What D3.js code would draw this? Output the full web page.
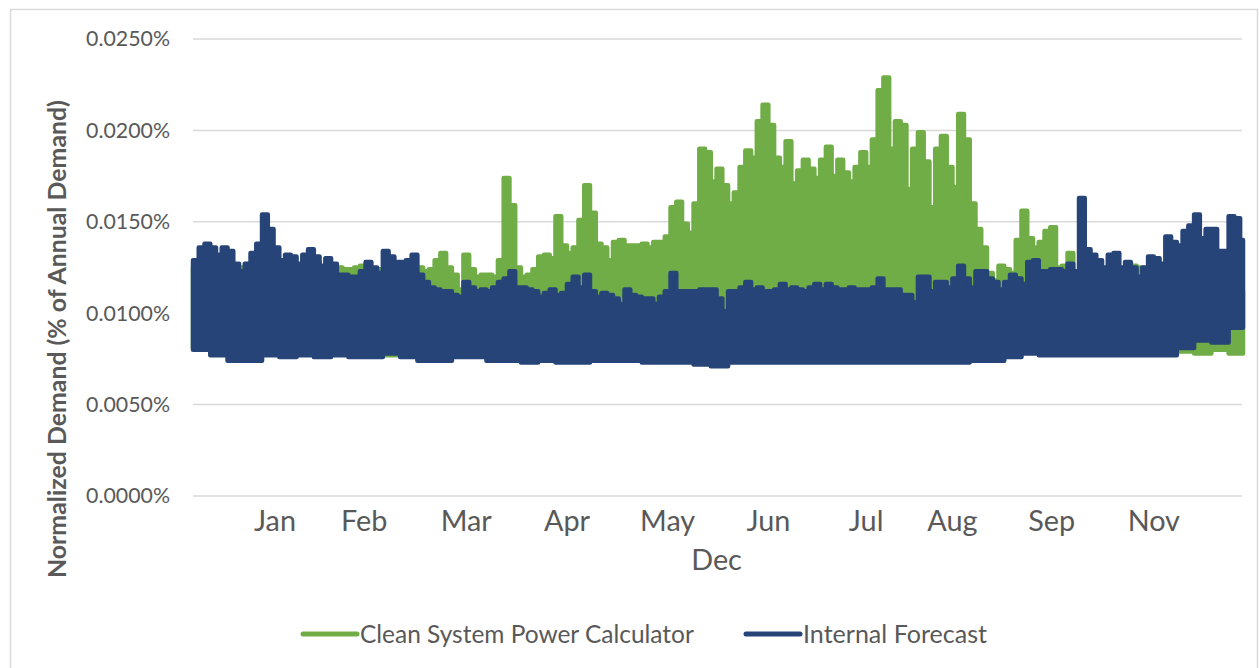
<!DOCTYPE html>
<html>
<head>
<meta charset="utf-8">
<script src="https://cdn.jsdelivr.net/npm/d3@7"></script>
<style>
  body { margin: 0; background: #fff; }
  svg { display: block; }
  text { font-family: Lato, "Open Sans", sans-serif; fill: #595959; }
</style>
</head>
<body>
<div id="chart"></div>
<script>
// Upper envelope of each series, one value per 2-day step (% of annual demand)
const cspcHigh = [
  0.0125, 0.0127, 0.0127, 0.0126, 0.0125, 0.0125, 0.0124, 0.0124, 0.0125, 0.0124,
  0.0124, 0.0125, 0.0126, 0.0124, 0.0123, 0.0123, 0.0122, 0.0123, 0.0124, 0.0123,
  0.0125, 0.0128, 0.0124, 0.0123, 0.0124, 0.0125, 0.0124, 0.0124, 0.0125, 0.0126,
  0.0124, 0.0122, 0.0124, 0.0121, 0.0122, 0.0122, 0.0121, 0.0122, 0.0123, 0.0125,
  0.0123, 0.0124, 0.0129, 0.0133, 0.0125, 0.0121, 0.0113, 0.0132, 0.0124, 0.0120,
  0.0121, 0.0121, 0.0120, 0.0129, 0.0174, 0.0159, 0.0125, 0.0120, 0.0121, 0.0124,
  0.0131, 0.0132, 0.0130, 0.0153, 0.0137, 0.0133, 0.0136, 0.0151, 0.0170, 0.0155,
  0.0138, 0.0136, 0.0129, 0.0139, 0.0140, 0.0137, 0.0137, 0.0137, 0.0138, 0.0136,
  0.0139, 0.0139, 0.0142, 0.0158, 0.0161, 0.0149, 0.0144, 0.0160, 0.0190, 0.0188,
  0.0172, 0.0179, 0.0170, 0.0160, 0.0166, 0.0180, 0.0189, 0.0185, 0.0205, 0.0214,
  0.0203, 0.0185, 0.0180, 0.0194, 0.0171, 0.0178, 0.0184, 0.0179, 0.0174, 0.0184,
  0.0191, 0.0175, 0.0184, 0.0177, 0.0172, 0.0180, 0.0188, 0.0180, 0.0195, 0.0222,
  0.0229, 0.0190, 0.0205, 0.0203, 0.0168, 0.0190, 0.0199, 0.0183, 0.0158, 0.0190,
  0.0197, 0.0180, 0.0169, 0.0209, 0.0195, 0.0160, 0.0146, 0.0136, 0.0122, 0.0118,
  0.0126, 0.0124, 0.0122, 0.0140, 0.0156, 0.0141, 0.0136, 0.0139, 0.0145, 0.0147,
  0.0125, 0.0126, 0.0133, 0.0122, 0.0122, 0.0121, 0.0121, 0.0122, 0.0121, 0.0121,
  0.0120, 0.0124, 0.0126, 0.0126, 0.0125, 0.0120, 0.0120, 0.0122, 0.0123, 0.0124,
  0.0125, 0.0124, 0.0125, 0.0123, 0.0122, 0.0124, 0.0125, 0.0124, 0.0130, 0.0126,
  0.0123, 0.0122, 0.0112
];
const internalHigh = [
  0.0129, 0.0136, 0.0138, 0.0136, 0.0132, 0.0136, 0.0134, 0.0127, 0.0123, 0.0127,
  0.0133, 0.0138, 0.0154, 0.0146, 0.0136, 0.0129, 0.0132, 0.0131, 0.0127, 0.0132,
  0.0135, 0.0131, 0.0126, 0.0130, 0.0127, 0.0121, 0.0121, 0.0120, 0.0120, 0.0123,
  0.0128, 0.0125, 0.0122, 0.0134, 0.0131, 0.0128, 0.0128, 0.0129, 0.0132, 0.0121,
  0.0117, 0.0114, 0.0113, 0.0112, 0.0112, 0.0110, 0.0109, 0.0117, 0.0114, 0.0112,
  0.0113, 0.0112, 0.0114, 0.0117, 0.0119, 0.0123, 0.0114, 0.0114, 0.0113, 0.0112,
  0.0109, 0.0111, 0.0113, 0.0110, 0.0111, 0.0116, 0.0120, 0.0114, 0.0121, 0.0112,
  0.0109, 0.0111, 0.0110, 0.0108, 0.0105, 0.0113, 0.0110, 0.0109, 0.0108, 0.0108,
  0.0105, 0.0109, 0.0112, 0.0122, 0.0112, 0.0112, 0.0112, 0.0112, 0.0113, 0.0113,
  0.0113, 0.0108, 0.0101, 0.0112, 0.0112, 0.0114, 0.0117, 0.0113, 0.0114, 0.0112,
  0.0112, 0.0113, 0.0116, 0.0113, 0.0114, 0.0113, 0.0112, 0.0114, 0.0116, 0.0113,
  0.0116, 0.0114, 0.0113, 0.0113, 0.0114, 0.0113, 0.0113, 0.0113, 0.0114, 0.0119,
  0.0113, 0.0113, 0.0113, 0.0110, 0.0110, 0.0106, 0.0120, 0.0120, 0.0112, 0.0117,
  0.0117, 0.0114, 0.0119, 0.0126, 0.0119, 0.0114, 0.0123, 0.0123, 0.0119, 0.0117,
  0.0113, 0.0117, 0.0121, 0.0119, 0.0116, 0.0128, 0.0129, 0.0123, 0.0123, 0.0124,
  0.0124, 0.0123, 0.0127, 0.0123, 0.0163, 0.0135, 0.0132, 0.0129, 0.0125, 0.0132,
  0.0133, 0.0125, 0.0128, 0.0125, 0.0120, 0.0125, 0.0131, 0.0130, 0.0127, 0.0142,
  0.0139, 0.0137, 0.0145, 0.0148, 0.0154, 0.0141, 0.0146, 0.0146, 0.0134, 0.0134,
  0.0153, 0.0152, 0.0140
];
// Lower envelope, one value per 6-day step
const cspcLow = [
  0.0081, 0.0079, 0.0080, 0.0081, 0.0080, 0.0080, 0.0080, 0.0081, 0.0080, 0.0081,
  0.0079, 0.0077, 0.0078, 0.0079, 0.0080, 0.0080, 0.0081, 0.0080, 0.0081, 0.0082,
  0.0083, 0.0083, 0.0084, 0.0084, 0.0085, 0.0085, 0.0086, 0.0087, 0.0088, 0.0089,
  0.0090, 0.0090, 0.0091, 0.0091, 0.0091, 0.0091, 0.0090, 0.0090, 0.0090, 0.0090,
  0.0090, 0.0089, 0.0088, 0.0087, 0.0086, 0.0085, 0.0084, 0.0083, 0.0082, 0.0082,
  0.0081, 0.0081, 0.0081, 0.0080, 0.0080, 0.0080, 0.0080, 0.0079, 0.0078, 0.0080,
  0.0078
];
const internalLow = [
  0.0080, 0.0077, 0.0074, 0.0074, 0.0077, 0.0076, 0.0077, 0.0076, 0.0077, 0.0076,
  0.0076, 0.0078, 0.0076, 0.0074, 0.0074, 0.0076, 0.0076, 0.0074, 0.0074, 0.0073,
  0.0074, 0.0073, 0.0073, 0.0074, 0.0074, 0.0074, 0.0073, 0.0073, 0.0073, 0.0072,
  0.0071, 0.0073, 0.0073, 0.0073, 0.0073, 0.0073, 0.0073, 0.0073, 0.0073, 0.0073,
  0.0073, 0.0073, 0.0073, 0.0073, 0.0073, 0.0074, 0.0074, 0.0076, 0.0078, 0.0077,
  0.0077, 0.0077, 0.0077, 0.0077, 0.0077, 0.0077, 0.0077, 0.0081, 0.0085, 0.0084,
  0.0092
];

const yTickValues = [0, 0.005, 0.01, 0.015, 0.02, 0.025];
const monthLabels = ['Jan', 'Feb', 'Mar', 'Apr', 'May', 'Jun', 'Jul', 'Aug', 'Sep', 'Nov', 'Dec'];
const monthDays = [28.5, 59.5, 95, 130, 165, 200, 234, 264, 298.5, 334, 182];
const monthRows = [0, 0, 0, 0, 0, 0, 0, 0, 0, 0, 1];

const seriesNames = ['Clean System Power Calculator', 'Internal Forecast'];
const seriesColors = ['#70ad47', '#264478'];

const W = 1259, H = 668;
const svg = d3.select('#chart').append('svg').attr('width', W).attr('height', H);

// chart frame
svg.append('rect')
  .attr('x', 10.5).attr('y', 9.5)
  .attr('width', 1247).attr('height', 680)
  .attr('fill', 'none').attr('stroke', '#d9d9d9').attr('stroke-width', 1.5);

const xScale = d3.scaleLinear().domain([0, 365]).range([193, 1243]);
const yScale = d3.scaleLinear().domain([0, 0.025]).range([496, 39]);

// helper: font size that makes a string reach a given width
function fitSize(str, weight, target) {
  const t = svg.append('text').attr('font-size', 100).attr('font-weight', weight).text(str);
  const w = t.node().getComputedTextLength();
  t.remove();
  return 100 * target / w;
}

// gridlines
svg.append('g').selectAll('line')
  .data(yTickValues)
  .enter().append('line')
  .attr('x1', 193).attr('x2', 1242)
  .attr('y1', d => yScale(d)).attr('y2', d => yScale(d))
  .attr('stroke', '#d9d9d9').attr('stroke-width', 1.5);

// y axis labels
const tickSize = fitSize('0.0250%', 400, 84);
const yAxis = d3.axisLeft(yScale)
  .tickValues(yTickValues)
  .tickSize(0)
  .tickPadding(0)
  .tickFormat(d => d3.format('.4f')(d) + '%');
const yG = svg.append('g').attr('transform', 'translate(170,0)').call(yAxis);
yG.select('.domain').remove();
yG.selectAll('text')
  .attr('font-size', tickSize)
  .attr('fill', '#595959')
  .style('font-family', 'Lato, "Open Sans", sans-serif');

// build a closed band from stepped upper and lower envelopes
function bandPoints(high, highStep, low, lowStep) {
  const pts = [];
  high.forEach((v, i) => {
    pts.push([xScale(i * highStep), yScale(v)]);
    pts.push([xScale(Math.min((i + 1) * highStep, 365)), yScale(v)]);
  });
  for (let j = low.length - 1; j >= 0; j--) {
    pts.push([xScale(Math.min((j + 1) * lowStep, 365)), yScale(low[j])]);
    pts.push([xScale(j * lowStep), yScale(low[j])]);
  }
  return pts;
}

const line = d3.line();
const bands = [
  bandPoints(cspcHigh, 2, cspcLow, 6),
  bandPoints(internalHigh, 2, internalLow, 6)
];
svg.append('g').selectAll('path')
  .data(bands)
  .enter().append('path')
  .attr('d', d => line(d) + 'Z')
  .attr('fill', (d, i) => seriesColors[i])
  .attr('stroke', (d, i) => seriesColors[i])
  .attr('stroke-width', 4.5)
  .attr('stroke-linejoin', 'round');

// x category labels
const monthSize = fitSize('Jan', 400, 42);
svg.append('g').selectAll('text')
  .data(monthLabels)
  .enter().append('text')
  .attr('x', (d, i) => xScale(monthDays[i]))
  .attr('y', (d, i) => 531 + monthRows[i] * 39)
  .attr('text-anchor', 'middle')
  .attr('font-size', monthSize)
  .text(d => d);

// y axis title
const titleStr = 'Normalized Demand (% of Annual Demand)';
svg.append('text')
  .attr('transform', 'translate(57,339) rotate(-90)')
  .attr('text-anchor', 'middle')
  .attr('dy', '0.35em')
  .attr('font-weight', 700)
  .attr('font-size', fitSize(titleStr, 700, 478))
  .text(titleStr);

// legend
const legendX = [303, 746];
const legendTextW = [334, 184];
const legend = svg.append('g').selectAll('g')
  .data(seriesNames)
  .enter().append('g')
  .attr('transform', (d, i) => `translate(${legendX[i]},634)`);
legend.append('line')
  .attr('x1', 0).attr('x2', 54)
  .attr('stroke', (d, i) => seriesColors[i])
  .attr('stroke-width', 5)
  .attr('stroke-linecap', 'round');
legend.append('text')
  .attr('x', 57)
  .attr('dy', '0.35em')
  .attr('font-size', (d, i) => fitSize(d, 400, legendTextW[i]))
  .text(d => d);
</script>
</body>
</html>
